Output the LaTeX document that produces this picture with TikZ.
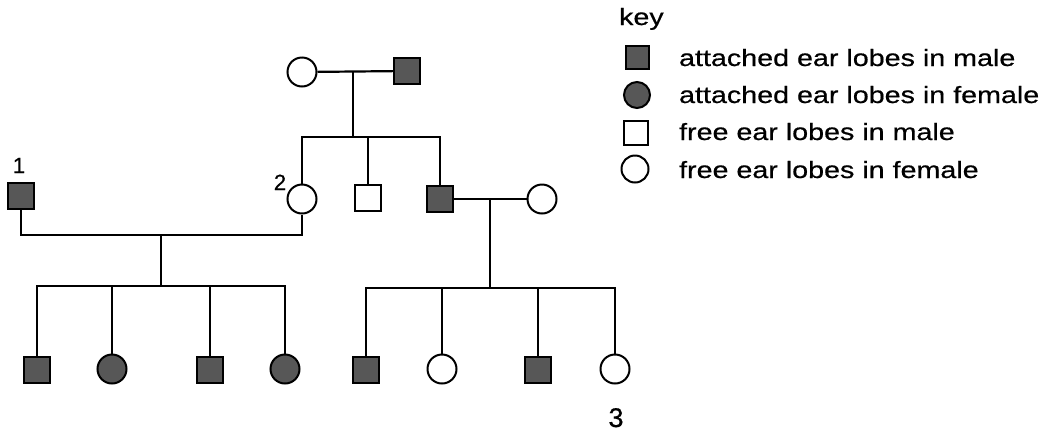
\documentclass[tikz,border=0pt]{standalone}
\usepackage{fontspec}
\setmainfont{Liberation Sans}[FakeBold=0.6]
\newfontfamily\keyfont[FakeStretch=1.22,FakeBold=0.6]{Liberation Sans}
\begin{document}
\begin{tikzpicture}[x=1pt,y=-1pt,
  line width=2.2pt,
  male/.style={draw=black,line width=2pt,rectangle,minimum width=26pt,minimum height=26pt,inner sep=0pt},
  female/.style={draw=black,line width=2pt,circle,minimum size=29pt,inner sep=0pt},
  aff/.style={fill=black!66},
  free/.style={fill=white},
  num/.style={font=\fontsize{22}{24}\selectfont,anchor=base,inner sep=0pt},
  keytext/.style={font=\keyfont\fontsize{23.5}{26}\selectfont,anchor=base west,inner sep=0pt}]
\useasboundingbox (0,0) rectangle (1060,432);

% first generation
\node[female,free] (A) at (302,72) {};
\node[male,aff]    (B) at (407,71) {};
\coordinate (m1) at (353,71);
\coordinate (s1) at (353,137);

% second generation
\node[female,free] (C) at (302,199) {};
\node[male,free]   (D) at (368,198) {};
\node[male,aff]    (E) at (440,199) {};
\node[female,free] (F) at (542,199) {};
\node[male,aff]    (G) at (21,196) {};
\coordinate (f1) at (161,235);
\coordinate (s2) at (161,286);
\coordinate (m2) at (490,199);
\coordinate (s3) at (490,288);

% third generation
\node[male,aff]    (L1) at (37,370) {};
\node[female,aff]  (L2) at (112,369) {};
\node[male,aff]    (L3) at (210,370) {};
\node[female,aff]  (L4) at (285,369) {};
\node[male,aff]    (R1) at (366,370) {};
\node[female,free] (R2) at (442,369) {};
\node[male,aff]    (R3) at (538,370) {};
\node[female,free] (R4) at (615,369) {};

% labels
\node[num] (n1) at (19,173) {1};
\node[num] (n2) at (280,190) {2};
\node[num,font=\fontsize{27}{30}\selectfont] (n3) at (616,427) {3};

% connectors
\draw (A) -- (B);
\draw (m1) -- (s1);
\draw (C.north) |- (s1) -| (E.north);
\draw (D.north) -- (D.north |- s1);

\draw (G.south) |- (f1) -| (C.south);
\draw (f1) -- (s2);
\draw (L1.north) |- (s2) -| (L4.north);
\draw (L2.north) -- (L2.north |- s2);
\draw (L3.north) -- (L3.north |- s2);

\draw (E) -- (F);
\draw (m2) -- (s3);
\draw (R1.north) |- (s3) -| (R4.north);
\draw (R2.north) -- (R2.north |- s3);
\draw (R3.north) -- (R3.north |- s3);

% key
\node[keytext] (kt) at (618,25) {key};
\node[male,aff,minimum width=23pt,minimum height=23pt] (k1) at (637,57) {};
\node[female,aff,minimum size=26pt] (k2) at (637,95) {};
\node[male,free,minimum width=24pt,minimum height=24pt] (k3) at (636,133) {};
\node[female,free,minimum size=27pt] (k4) at (635,169) {};
\node[keytext] (t1) at (678,66) {attached ear lobes in male};
\node[keytext] (t2) at (678,103) {attached ear lobes in female};
\node[keytext] (t3) at (678,140) {free ear lobes in male};
\node[keytext] (t4) at (678,178) {free ear lobes in female};
\end{tikzpicture}
\end{document}
